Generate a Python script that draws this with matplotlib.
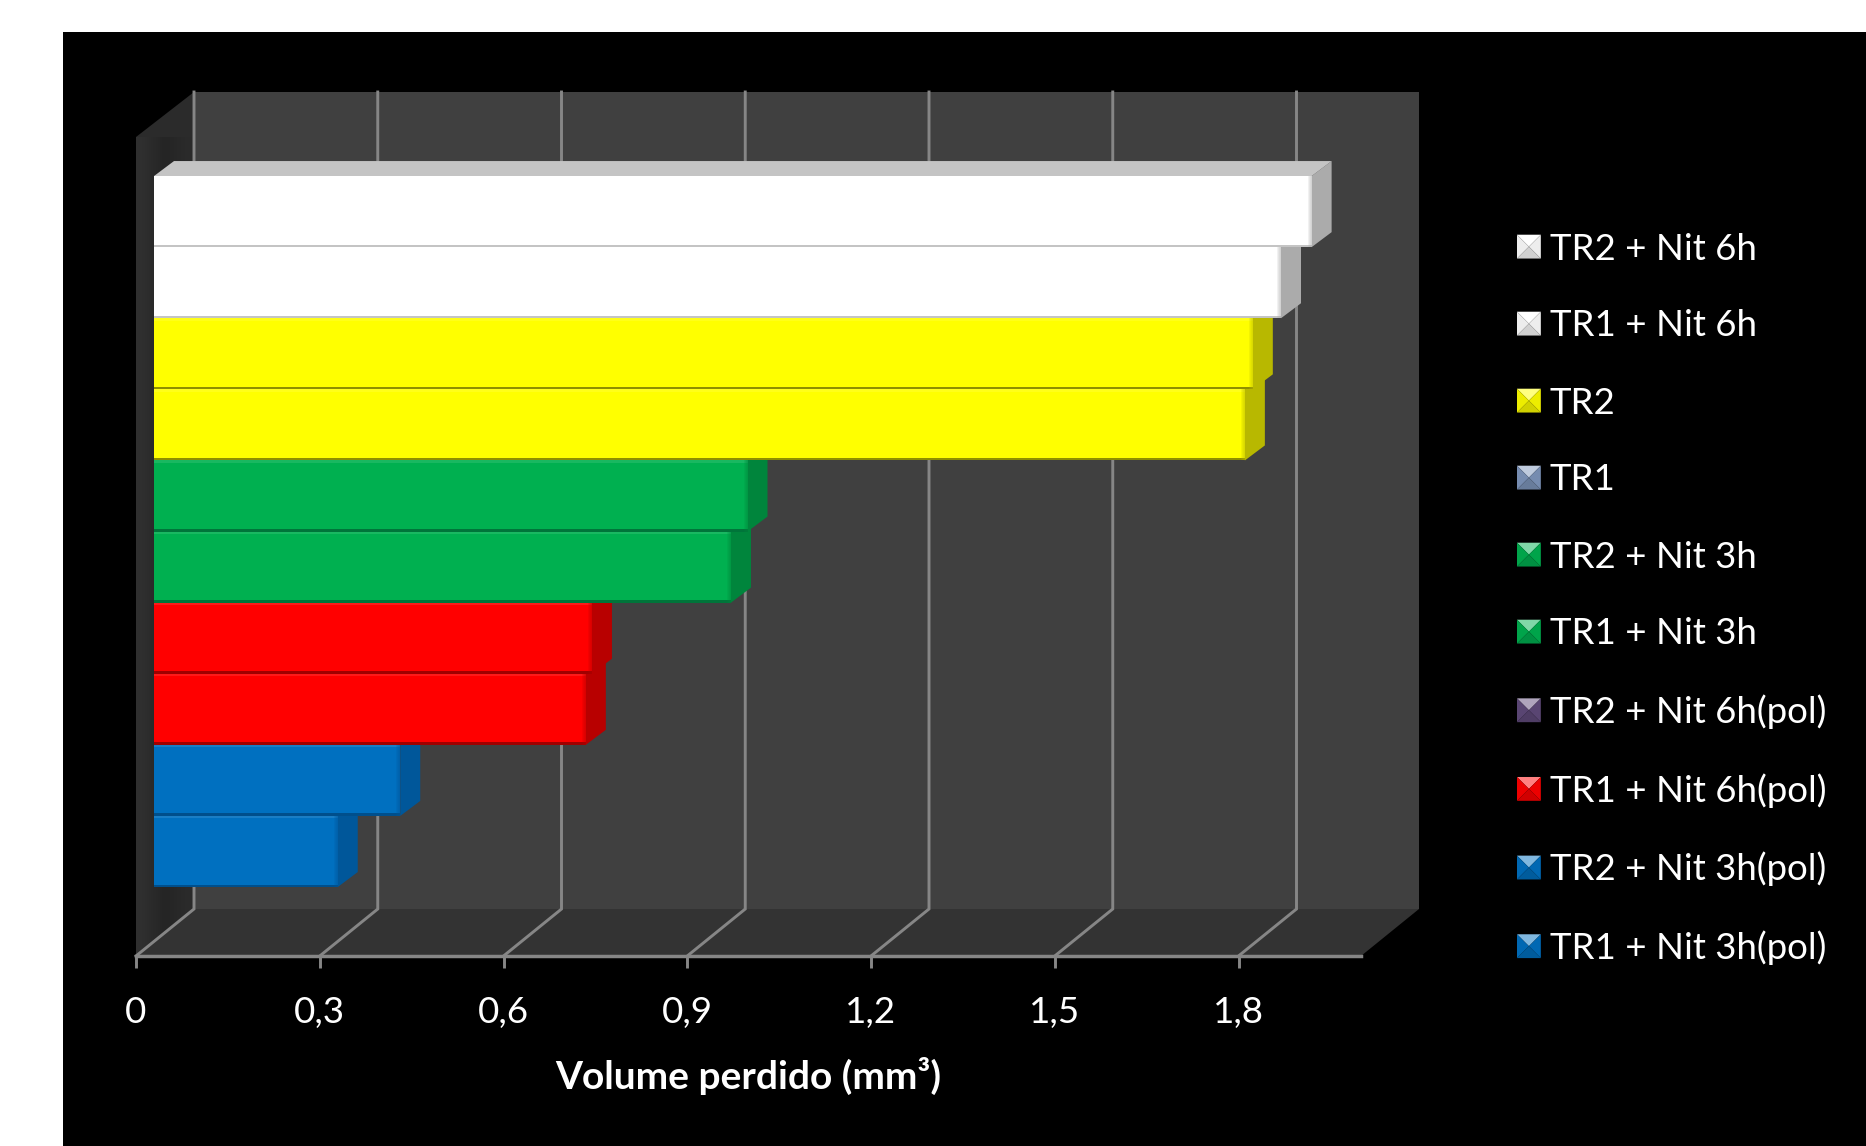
import matplotlib
matplotlib.use("Agg")
import matplotlib.pyplot as plt
import numpy as np
from matplotlib.patches import Polygon, Rectangle, Patch
from matplotlib.legend_handler import HandlerPatch
from matplotlib.colors import LinearSegmentedColormap

# ---------- data ----------
categories = ["TR1 + Nit 3h(pol)", "TR2 + Nit 3h(pol)", "TR1 + Nit 6h(pol)", "TR2 + Nit 6h(pol)",
              "TR1 + Nit 3h", "TR2 + Nit 3h", "TR1", "TR2", "TR1 + Nit 6h", "TR2 + Nit 6h"]
values = [0.30, 0.402, 0.705, 0.715, 0.942, 0.969, 1.781, 1.794, 1.84, 1.89]
bar_colors = ["#0070c0", "#0070c0", "#ff0000", "#ff0000", "#00b050", "#00b050",
              "#ffff00", "#ffff00", "#ffffff", "#ffffff"]
side_colors = ["#00579a", "#00579a", "#b80000", "#b80000", "#00853c", "#00853c",
               "#b8b800", "#b8b800", "#ababab", "#ababab"]
foot_colors = ["#004f8c", "#004f8c", "#a00000", "#a00000", "#00753a", "#00753a",
               "#8f8f00", "#8f8f00", "#c4c4c4", "#c4c4c4"]
legend_colors = ["#0070c0", "#0070c0", "#ff0000", "#604a7b", "#00b050", "#00b050",
                 "#7f97bd", "#ffff00", "#ffffff", "#ffffff"]
x_ticks = [0, 0.3, 0.6, 0.9, 1.2, 1.5, 1.8]
x_tick_labels = ["0", "0,3", "0,6", "0,9", "1,2", "1,5", "1,8"]
x_title = "Volume perdido (mm³)"

# ---------- layout (pixels) ----------
W, H = 1866, 1146
FONT = ["Lato", "DejaVu Sans"]
plt.rcParams["font.family"] = FONT
L, R, B, T = 136, 1361, 956, 137
x_max = 2.0
px_x = (R - L) / x_max
px_y = 71.1                        # one category in pixels
y_low = -(B - 851.5) / px_y
y_high = (851.5 - T) / px_y
depth_x = 58 / px_x                # plot-box depth
depth_y = 47 / px_y
depth_y_top = 45 / px_y
bar_shift = 18 / px_x              # bars stand inside the box
bar_dx = 20 / px_x                 # bar depth
bar_dy = 15 / px_y

fig = plt.figure(figsize=(W / 100, H / 100), dpi=100, facecolor="white")
fig.add_artist(Rectangle((63 / W, 0), 1 - 63 / W, 1 - 32 / H, transform=fig.transFigure,
                         facecolor="black", edgecolor="none", zorder=-5))
ax = fig.add_axes([L / W, 1 - B / H, (R - L) / W, (B - T) / H])
ax.patch.set_visible(False)

# walls
top_back = y_high + depth_y_top
floor_back = y_low + depth_y
wall_back = Polygon([(depth_x, floor_back), (x_max + depth_x, floor_back),
                     (x_max + depth_x, top_back), (depth_x, top_back)],
                    facecolor="#404040", edgecolor="none", zorder=1, clip_on=False)
ax.add_patch(wall_back)
wall_floor = Polygon([(0, y_low), (x_max, y_low), (x_max + depth_x, floor_back), (depth_x, floor_back)],
                     facecolor="#333333", edgecolor="none", zorder=1, clip_on=False)
ax.add_patch(wall_floor)
wall_left = Polygon([(0, y_low), (depth_x, floor_back), (depth_x, top_back), (0, y_high)],
                    facecolor="#2b2b2b", edgecolor="none", zorder=1, clip_on=False)
ax.add_patch(wall_left)
shade = LinearSegmentedColormap.from_list("shade", ["#303030", "#252525", "#2b2b2b"])
im = ax.imshow(np.array([[0.0, 0.4, 0.6, 1.0]]), cmap=shade, vmin=0, vmax=1, aspect="auto",
               extent=(0, depth_x, y_low, top_back), interpolation="bicubic", zorder=1.1)
im.set_clip_path(wall_left)
ax.set_xlim(0, x_max)
ax.set_ylim(y_low, y_high)

# grid
GRID = "#868686"
for t in x_ticks:
    ax.plot([t, t + depth_x, t + depth_x], [y_low, floor_back, top_back], color=GRID, lw=2.1,
            zorder=2, clip_on=False, solid_joinstyle="miter")

# bars: lower ones first, so the upper ones cover their depth faces
for i, (v, c, s, f) in enumerate(zip(values, bar_colors, side_colors, foot_colors)):
    z = 3 + i
    x0, x1 = bar_shift, bar_shift + v
    y0, y1 = i - 0.5, i + 0.5
    ax.add_patch(Polygon([(x1, y0), (x1 + bar_dx, y0 + bar_dy), (x1 + bar_dx, y1 + bar_dy), (x1, y1)],
                         facecolor=s, edgecolor="none", zorder=z, clip_on=False))
    if i == len(values) - 1:
        ax.add_patch(Polygon([(x0, y1), (x0 + bar_dx, y1 + bar_dy), (x1 + bar_dx, y1 + bar_dy), (x1, y1)],
                             facecolor="#c4c4c4", edgecolor="none", zorder=z, clip_on=False))
    ax.barh(i, v, left=bar_shift, height=1.0, color=c, edgecolor="none", zorder=z + 0.1)
    # bevel on the front face: dark foot, light head and a soft right edge
    by = 2.5 / px_y
    ax.add_patch(Rectangle((x0, y0), v, by, facecolor=f, edgecolor="none", zorder=z + 0.2))
    ax.add_patch(Rectangle((x0, y1 - by), v, by, facecolor="white", alpha=0.1,
                           edgecolor="none", zorder=z + 0.2))
    for k in range(4):
        wk = (1 + k) * 1.0 / px_x
        ax.add_patch(Rectangle((x1 - wk, y0), wk, 1.0, facecolor=s, alpha=0.16,
                               edgecolor="none", zorder=z + 0.2))

# axis
ax.set_yticks([])
for sp in ("left", "right", "top"):
    ax.spines[sp].set_visible(False)
ax.spines["bottom"].set_color(GRID)
ax.spines["bottom"].set_linewidth(2.5)
ax.spines["bottom"].set_zorder(30)
ax.set_xticks(x_ticks)
ax.set_xticklabels(x_tick_labels, fontsize=26.5, color="white")
ax.tick_params(axis="x", length=8.5, width=2.1, color=GRID, pad=20)
ax.set_xlabel(x_title, fontsize=28, fontweight="bold", color="white", labelpad=20.5)


# legend with bevelled keys
class PyramidHandler(HandlerPatch):
    def create_artists(self, legend, orig, xd, yd, w, h, fontsize, trans):
        col = np.array(matplotlib.colors.to_rgb(orig.get_facecolor()))
        s = min(w, h)
        x = -xd + (w - s) / 2
        y = -yd + (h - s) / 2
        c = (x + s / 2, y + s / 2)
        a, b, cc, d = (x, y), (x + s, y), (x + s, y + s), (x, y + s)
        faces = [((d, cc, c), col * 0.5 + 0.5), ((a, b, c), col * 0.82),
                 ((a, d, c), col * 0.93), ((b, cc, c), col * 0.93)]
        return [Polygon(pts, facecolor=np.clip(fc, 0, 1), edgecolor="none", transform=trans)
                for pts, fc in faces]


handles = [Patch(facecolor=c, label=n) for n, c in zip(categories, legend_colors)][::-1]
leg = fig.legend(handles=handles, loc="upper left", bbox_to_anchor=(1517 / W, 1 - 232.5 / H),
                 bbox_transform=fig.transFigure, frameon=False, fontsize=26.4, labelcolor="white",
                 handler_map={Patch: PyramidHandler()}, handlelength=0.65, handleheight=0.65,
                 handletextpad=0.25, labelspacing=1.2, borderpad=0, borderaxespad=0)

fig.savefig("out.png", dpi=100, facecolor=fig.get_facecolor())
